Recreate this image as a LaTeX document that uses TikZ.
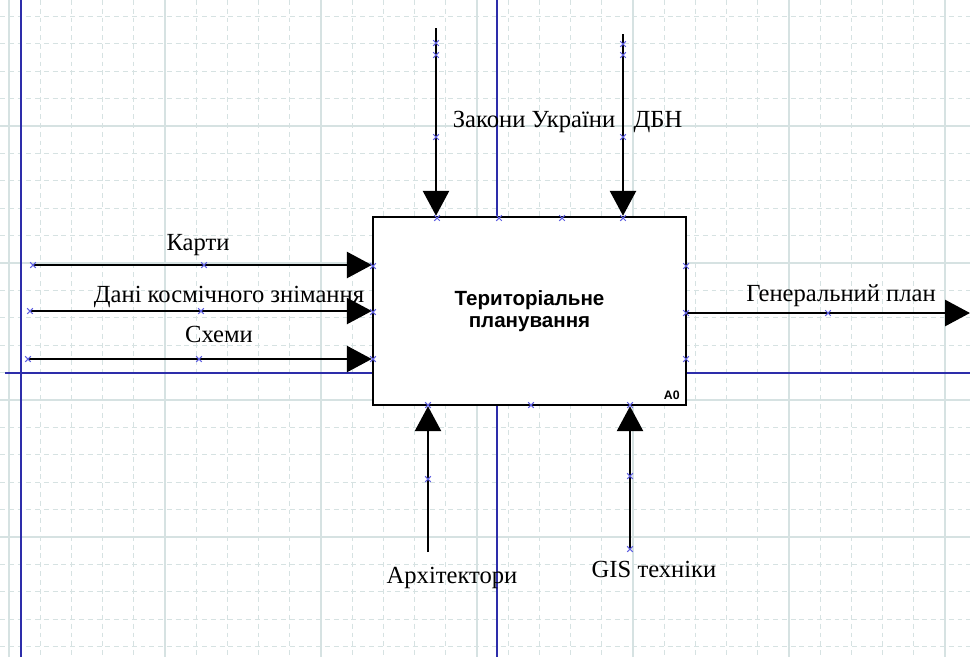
\documentclass[tikz,border=0pt]{standalone}
\usepackage{fontspec}
\setmainfont{Liberation Serif}
\newfontfamily\boxfont{Liberation Sans}
\usetikzlibrary{arrows.meta}

\definecolor{gridc}{RGB}{214,226,226}
\definecolor{guide}{RGB}{45,45,170}
\definecolor{markc}{RGB}{95,95,225}

\tikzset{
  flow/.style={line width=1.6pt, -{Triangle[length=0.5cm,width=0.52cm]}},
  lbl/.style={anchor=base, inner sep=0pt, font=\fontsize{14}{16}\selectfont},
  func/.style={draw, line width=1.4pt, fill=white, inner sep=0pt,
    minimum width=6.26cm, minimum height=3.76cm, align=center,
    font=\boxfont\bfseries\fontsize{11.7}{12.5}\selectfont},
  gridd/.style={gridc, line width=0.6pt, dash pattern=on 2.8pt off 2.2pt},
  grids/.style={gridc, line width=0.8pt},
  xmk/.style={markc, line width=0.6pt},
}

\begin{document}
\begin{tikzpicture}[x=0.02cm, y=-0.02cm]
    \useasboundingbox[fill=white] (0,0) rectangle (970,657);
    % sitka
    \foreach \k in {0,...,30} \draw[gridd] ({9+31.2*\k},0) -- ({9+31.2*\k},657);
    \foreach \k in {0,...,23} \draw[gridd] (0,{16.4+27.4*\k}) -- (970,{16.4+27.4*\k});
    \foreach \k in {0,5,...,30} \draw[grids] ({9+31.2*\k},0) -- ({9+31.2*\k},657);
    \foreach \k in {4,9,14,19} \draw[grids] (0,{16.4+27.4*\k}) -- (970,{16.4+27.4*\k});
    % napriamni
    \draw[guide, line width=1.1pt] (21,0) -- (21,657);
    \draw[guide, line width=0.8pt] (497,0) -- (497,657);
    \draw[guide, line width=0.9pt] (5,373) -- (970,373);
    % funktsiia A0
    \node[func] (a0) at (529.5,311) {Територіальне\\планування};
    \node[anchor=base east, inner sep=0pt, font=\boxfont\bfseries\fontsize{7}{8}\selectfont] (a0num) at (680,399) {A0};
    % vkhody
    \coordinate (in1) at (33,265);
    \coordinate (in2) at (30,311);
    \coordinate (in3) at (28,359);
    \draw[flow] (in1) -- (in1 -| a0.west);
    \draw[flow] (in2) -- (in2 -| a0.west);
    \draw[flow] (in3) -- (in3 -| a0.west);
    \node[lbl] (karty) at (198,250) {Карти};
    \node[lbl] (dani) at (229,302) {Дані космічного знімання};
    \node[lbl] (skhemy) at (219,342) {Схеми};
    % vykhid
    \coordinate (out1) at (970,313);
    \draw[flow] (out1 -| a0.east) -- (out1);
    \node[lbl] (genplan) at (841,301) {Генеральний план};
    % keruvannia
    \coordinate (ctl1) at (436,28);
    \coordinate (ctl2) at (623,34);
    \draw[flow] (ctl1) -- (ctl1 |- a0.north);
    \draw[flow] (ctl2) -- (ctl2 |- a0.north);
    \node[lbl] (zakony) at (534,127) {Закони України};
    \node[lbl] (dbn) at (658,127) {ДБН};
    % mekhanizmy
    \coordinate (mech1) at (428,552);
    \coordinate (mech2) at (630,549);
    \draw[flow] (mech1) -- (mech1 |- a0.south);
    \draw[flow] (mech2) -- (mech2 |- a0.south);
    \node[lbl] (arkh) at (452,583) {Архітектори};
    \node[lbl] (gis) at (654,577) {GIS техніки};
    % mitky
    \foreach \p in {(33,265),(204,265),(30,311),(201,311),(28,359),(199,359),
        (373,266),(373,312),(373,359),(686,266),(686,313),(686,359),
        (437,218),(499,218),(562,218),(623,218),(428,405),(531,405),(630,405),
        (828,313),(436,43),(436,55),(436,137),(623,44),(623,55),(623,137),
        (428,479),(630,476),(630,549)}
      \draw[xmk] \p +(-2.8,-2.8) -- +(2.8,2.8) +(-2.8,2.8) -- +(2.8,-2.8);
\end{tikzpicture}
\end{document}
